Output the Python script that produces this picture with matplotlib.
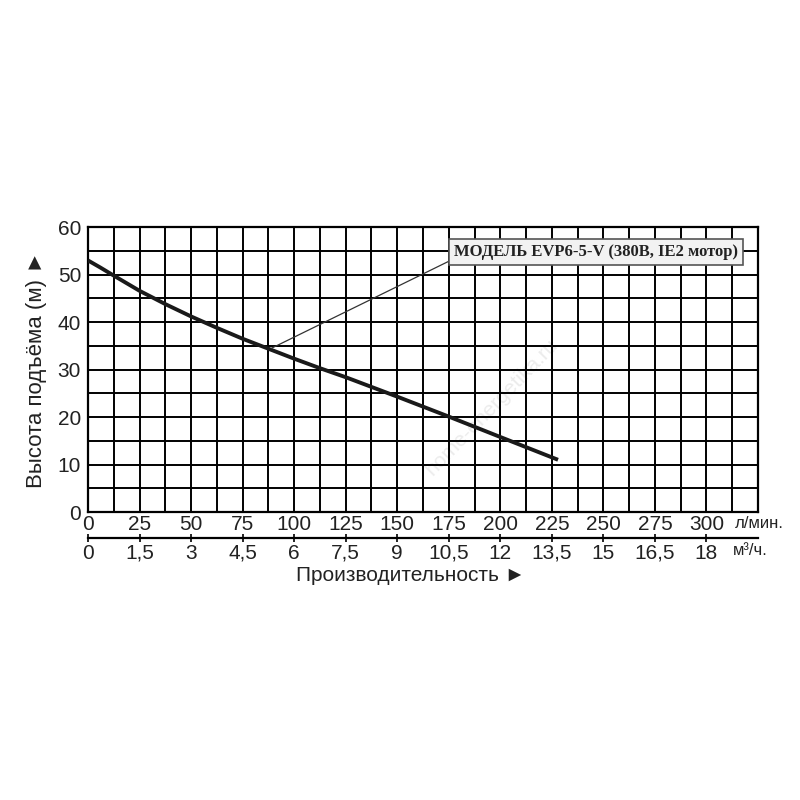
import matplotlib.pyplot as plt
import numpy as np

# Data (flow in l/min, head in m)
flow_lpm = [0, 6, 12.5, 25, 37.5, 50, 62.5, 75, 87.5, 100, 112.5, 125, 150, 175, 200, 228]
head_m = [53, 51.5, 49.8, 46.6, 43.8, 41.2, 38.8, 36.5, 34.4, 32.3, 30.3, 28.4, 24.3, 20.1, 15.8, 11]

lpm_ticks = [0, 25, 50, 75, 100, 125, 150, 175, 200, 225, 250, 275, 300]
m3h_ticks = [0, 1.5, 3, 4.5, 6, 7.5, 9, 10.5, 12, 13.5, 15, 16.5, 18]
m3h_labels = ['0', '1,5', '3', '4,5', '6', '7,5', '9', '10,5', '12', '13,5', '15', '16,5', '18']
head_ticks = [0, 10, 20, 30, 40, 50, 60]

model_label = 'МОДЕЛЬ EVP6-5-V (380В, IE2 мотор)'
pointer_at = (89, 34.5)

plt.rcParams['font.family'] = ['Liberation Sans', 'DejaVu Sans']

fig = plt.figure(figsize=(8, 8), dpi=100)
fig.patch.set_facecolor('white')
ax = fig.add_axes([0.11, 0.36, 0.8375, 0.356])

ax.set_xlim(0, 325)
ax.set_ylim(0, 60)

# grid every 12.5 l/min and 5 m
ax.set_xticks(np.arange(0, 325.1, 12.5), minor=True)
ax.set_yticks(np.arange(0, 60.1, 5), minor=True)
ax.grid(True, which='both', color='black', linewidth=1.4)
ax.set_axisbelow(True)
for s in ax.spines.values():
    s.set_linewidth(1.6)
    s.set_color('black')

ax.set_xticks(lpm_ticks)
ax.set_xticklabels([str(t) for t in lpm_ticks])
ax.set_yticks(head_ticks)
ax.tick_params(which='both', length=0)
ax.tick_params(axis='x', labelsize=15, pad=2, labelcolor='#222222')
ax.tick_params(axis='y', labelsize=15, pad=5, labelcolor='#222222')

# faint watermark
ax.text(196, 22, 'home-energetika.ru', rotation=46, color='#ececec',
        fontsize=15, ha='center', va='center', zorder=0.5)

ax.plot(flow_lpm, head_m, color='#1a1a1a', linewidth=2.8, solid_capstyle='butt', zorder=3)

ax.annotate(model_label, xy=pointer_at, xytext=(177.5, 54.7),
            ha='left', va='center', fontsize=12, fontweight='bold',
            family='Liberation Serif', color='#222222',
            bbox=dict(boxstyle='square,pad=0.3', fc='#f2f2f2', ec='#555555', lw=1.2),
            arrowprops=dict(arrowstyle='-', color='#333333', lw=0.9,
                            relpos=(0, 0.1), shrinkA=0, shrinkB=0),
            zorder=4)

# second scale in m3/h
ax2 = fig.add_axes([0.11, 0.3275, 0.8375, 0.001])
ax2.set_xlim(0, 325 * 0.06)
ax2.set_yticks([])
for side in ['top', 'left', 'right']:
    ax2.spines[side].set_visible(False)
ax2.spines['bottom'].set_linewidth(1.6)
ax2.patch.set_alpha(0)
ax2.set_xticks(m3h_ticks)
ax2.set_xticklabels(m3h_labels)
ax2.tick_params(axis='x', direction='inout', length=6, width=1.2, labelsize=15, pad=12,
                labelcolor='#222222')
for lbl in ax2.get_xticklabels():
    lbl.set_verticalalignment('baseline')

fig.text(0.918, 0.345, 'л/мин.', fontsize=12, ha='left', va='center', color='#222222')
fig.text(0.916, 0.312, 'м³/ч.', fontsize=12, ha='left', va='center', color='#222222')

fig.text(0.513, 0.281, 'Производительность ►', fontsize=15, ha='center', va='center',
         color='#222222')
fig.text(0.046, 0.538, 'Высота подъёма (м) ►', rotation=90, fontsize=16,
         ha='center', va='center', color='#222222')

fig.savefig('out.png', dpi=100, facecolor='white')
